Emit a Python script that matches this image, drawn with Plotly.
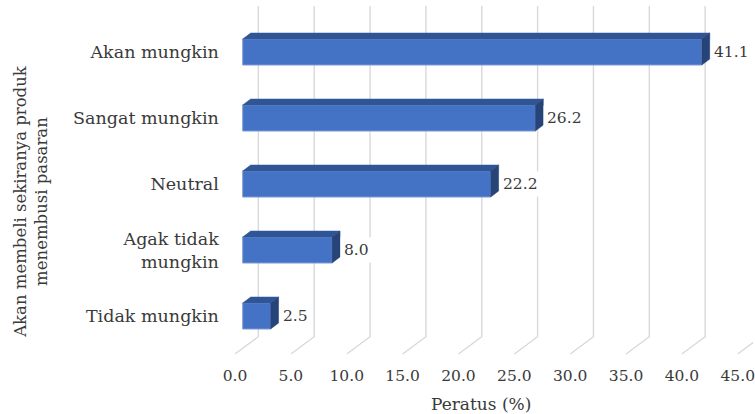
import plotly.graph_objects as go

# ---------------- data ----------------
categories = ["Tidak mungkin", "Agak tidak<br>mungkin", "Neutral", "Sangat mungkin", "Akan mungkin"]
values = [2.5, 8.0, 22.2, 26.2, 41.1]
tick_values = [0, 5, 10, 15, 20, 25, 30, 35, 40, 45]
tick_labels = ["0.0", "5.0", "10.0", "15.0", "20.0", "25.0", "30.0", "35.0", "40.0", "45.0"]
x_title = "Peratus (%)"
y_title = "Akan membeli sekiranya produk<br>menembusi pasaran"

# ---------------- style / geometry ----------------
W, H = 755, 414
FONT = "DejaVu Serif"
TEXT = "#3A3A3A"
FRONT = "#4472C4"
TOP = "#2F5597"
SIDE = "#264478"
EDGE = "#7A9AD6"
GRID = "#D9D9D9"

PX_UNIT = 11.23      # pixels per percent
PX_CAT = 66.0        # pixels per category
X_LEFT = 224         # left edge of plotting region (px)
FRONT0 = 242         # px of value 0 on bar front faces
CAT0_Y = 316         # px (from top) of first category centre

BAR_W = 26 / PX_CAT
BAR_DX = 8 / PX_UNIT
BAR_DY = 6 / PX_CAT
WALL_DX = 15.7 / PX_UNIT
FLOOR_DX = -7.7 / PX_UNIT
WALL_TOP = (CAT0_Y - 6) / PX_CAT
WALL_BOT = (CAT0_Y - 336.7) / PX_CAT
FLOOR_FRONT = (CAT0_Y - 354) / PX_CAT

x_range = [(X_LEFT - FRONT0) / PX_UNIT, (W - FRONT0) / PX_UNIT]
x2_range = [x_range[0] - FLOOR_DX, x_range[1] - FLOOR_DX]
y_range = [(CAT0_Y - H) / PX_CAT, CAT0_Y / PX_CAT]

ypos = list(range(len(categories)))

fig = go.Figure()

# gridlines: back wall + floor diagonals (drawn below the bars)
shapes = []
for t in tick_values:
    path = (f"M {t + WALL_DX},{WALL_TOP} L {t + WALL_DX},{WALL_BOT} "
            f"L {t + FLOOR_DX},{FLOOR_FRONT}")
    shapes.append(dict(type="path", path=path, xref="x", yref="y", layer="below",
                       line=dict(color=GRID, width=1.4)))

# front faces
fig.add_trace(go.Bar(x=values, y=ypos, orientation="h", width=BAR_W,
                     marker=dict(color=FRONT, line=dict(color=EDGE, width=1)),
                     showlegend=False, hoverinfo="skip"))

# top and side faces
h = BAR_W / 2
for v, k in zip(values, ypos):
    fig.add_trace(go.Scatter(
        x=[0, BAR_DX, v + BAR_DX, v, 0],
        y=[k + h, k + h + BAR_DY, k + h + BAR_DY, k + h, k + h],
        mode="lines", fill="toself", fillcolor=TOP, line=dict(color=TOP, width=0.5),
        hoverinfo="skip", showlegend=False))
    fig.add_trace(go.Scatter(
        x=[v, v + BAR_DX, v + BAR_DX, v, v],
        y=[k - h, k - h + BAR_DY, k + h + BAR_DY, k + h, k - h],
        mode="lines", fill="toself", fillcolor=SIDE, line=dict(color=SIDE, width=0.5),
        hoverinfo="skip", showlegend=False))

# invisible anchor trace for the tick-label axis
fig.add_trace(go.Scatter(x=tick_values, y=[y_range[0]] * len(tick_values), xaxis="x2", yaxis="y",
                         mode="markers", marker=dict(opacity=0), hoverinfo="skip", showlegend=False))

annotations = []
for v, k in zip(values, ypos):
    annotations.append(dict(x=v + BAR_DX, y=k, xref="x", yref="y", text=f"{v:.1f}",
                            xanchor="left", yanchor="middle", showarrow=False,
                            bgcolor="white", borderpad=3,
                            font=dict(family=FONT, size=15.5, color=TEXT)))
annotations.append(dict(x=29 / W, y=1 - 201 / H, xref="paper", yref="paper", text=y_title,
                        textangle=-90, showarrow=False, xanchor="center", yanchor="middle",
                        align="center", font=dict(family=FONT, size=16.5, color=TEXT)))
annotations.append(dict(x=481.5 / W, y=1 - 404 / H, xref="paper", yref="paper", text=x_title,
                        showarrow=False, xanchor="center", yanchor="middle",
                        font=dict(family=FONT, size=17, color=TEXT)))

fig.update_layout(
    width=W, height=H, margin=dict(l=0, r=0, t=0, b=0),
    paper_bgcolor="white", plot_bgcolor="white", showlegend=False,
    font=dict(family=FONT, color=TEXT, size=17),
    xaxis=dict(domain=[X_LEFT / W, 1], range=x_range, showgrid=False, zeroline=False,
               showticklabels=False, showline=False, ticks=""),
    xaxis2=dict(overlaying="x", anchor="free", position=(H - 364) / H, range=x2_range,
                tickvals=tick_values, ticktext=tick_labels, showgrid=False, zeroline=False,
                showline=False, ticks="", ticklabeloverflow="allow",
                tickfont=dict(family=FONT, size=15.5, color=TEXT)),
    yaxis=dict(range=y_range, tickvals=ypos, ticktext=categories, showgrid=False,
               zeroline=False, showline=False, ticks="", ticklabelstandoff=5,
               tickfont=dict(family=FONT, size=17.5, color=TEXT)),
    shapes=shapes,
    annotations=annotations,
)

fig.write_html("out.html")
